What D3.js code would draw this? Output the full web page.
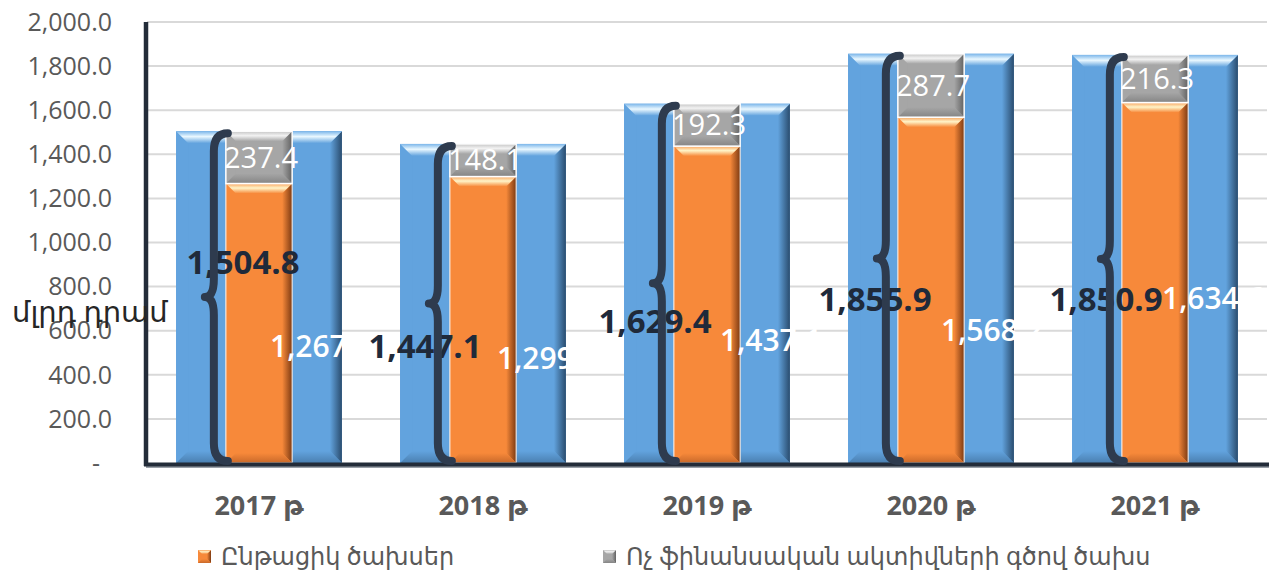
<!DOCTYPE html>
<html>
<head>
<meta charset="utf-8">
<script src="https://cdn.jsdelivr.net/npm/d3@7"></script>
<style>
  body { margin: 0; background: #fff; }
  svg { display: block; font-family: "Open Sans", "DejaVu Sans", sans-serif; }
</style>
</head>
<body>
<script>
// data (billion AMD)
const years = ["2017 թ", "2018 թ", "2019 թ", "2020 թ", "2021 թ"];
const totalValues = [1504.8, 1447.1, 1629.4, 1855.9, 1850.9];
const currentValues = [1267.4, 1299.0, 1437.1, 1568.2, 1634.6];
const nonFinancialValues = [237.4, 148.1, 192.3, 287.7, 216.3];
const yTicks = [0, 200, 400, 600, 800, 1000, 1200, 1400, 1600, 1800, 2000];
const legendLabels = ["Ընթացիկ ծախսեր", "Ոչ ֆինանսական ակտիվների գծով ծախս"];
const yTitle = "մլրդ դրամ";

// hand placed label nudges (dx, dy) as in the original
const totalShift = [[-16, -35], [-58, 43], [-52, 38], [-56, 41], [-49, 41]];
const currentShift = [[11, 23], [14, 39], [13, 36], [10, 40], [7, 16]];

const W = 1269, H = 575;
const plotL = 147, plotR = 1267, plotT = 22, plotB = 463;

const svg = d3.select("body").append("svg")
    .attr("width", W).attr("height", H);
const defs = svg.append("defs");

const x = d3.scaleBand().domain(years).range([plotL, plotR])
    .paddingInner(0.26).paddingOuter(0.13);
const y = d3.scaleLinear().domain([0, 2000]).range([plotB, plotT]);
const fmt = d3.format(",.1f");

// gradients for the bevel look
const palettes = {
    blue:   { base: "#62a3de", light: "#eaf8ff", mid: "#7bb6ea", dark: "#2a4c6e", low: "#4a7fb0" },
    orange: { base: "#f7893a", light: "#fff4c8", mid: "#f9a35e", dark: "#7d3a12", low: "#c9692a" },
    gray:   { base: "#a6a6a6", light: "#f2f2f2", mid: "#c4c4c4", dark: "#626262", low: "#858585" }
};
Object.entries(palettes).forEach(([k, p]) => {
    const gt = defs.append("linearGradient").attr("id", k + "-top")
        .attr("x1", 0).attr("y1", 0).attr("x2", 0).attr("y2", 1);
    gt.append("stop").attr("offset", "0%").attr("stop-color", p.mid);
    gt.append("stop").attr("offset", "45%").attr("stop-color", p.light);
    gt.append("stop").attr("offset", "100%").attr("stop-color", p.base);
    const gr = defs.append("linearGradient").attr("id", k + "-right")
        .attr("x1", 0).attr("y1", 0).attr("x2", 1).attr("y2", 0);
    gr.append("stop").attr("offset", "0%").attr("stop-color", p.base);
    gr.append("stop").attr("offset", "100%").attr("stop-color", p.dark);
    const gb = defs.append("linearGradient").attr("id", k + "-bottom")
        .attr("x1", 0).attr("y1", 0).attr("x2", 0).attr("y2", 1);
    gb.append("stop").attr("offset", "0%").attr("stop-color", p.base);
    gb.append("stop").attr("offset", "100%").attr("stop-color", p.low);
});

function bevelBar(g, bx, by, bw, bh, pal, b) {
    const bb = Math.min(b, bh / 2);
    const grp = g.append("g");
    grp.append("rect").attr("x", bx).attr("y", by).attr("width", bw).attr("height", bh)
        .attr("fill", palettes[pal].base);
    const poly = (pts, fill) => grp.append("polygon")
        .attr("points", pts.map(p => p.join(",")).join(" ")).attr("fill", fill);
    poly([[bx, by], [bx + bb, by + bb], [bx + bb, by + bh - bb], [bx, by + bh]], palettes[pal].base);
    poly([[bx + bw, by], [bx + bw - bb, by + bb], [bx + bw - bb, by + bh - bb], [bx + bw, by + bh]], `url(#${pal}-right)`);
    poly([[bx, by + bh], [bx + bw, by + bh], [bx + bw - bb, by + bh - bb], [bx + bb, by + bh - bb]], `url(#${pal}-bottom)`);
    poly([[bx, by], [bx + bw, by], [bx + bw - bb, by + bb], [bx + bb, by + bb]], `url(#${pal}-top)`);
    return grp;
}

// gridlines
svg.append("g").selectAll("line")
    .data(yTicks.filter(d => d > 0))
    .join("line")
    .attr("x1", plotL).attr("x2", plotR)
    .attr("y1", d => y(d)).attr("y2", d => y(d))
    .attr("stroke", "#d9d9d9").attr("stroke-width", 2);

// y tick labels
svg.append("g").selectAll("text")
    .data(yTicks)
    .join("text")
    .attr("x", d => d === 0 ? 100 : 112)
    .attr("y", d => y(d))
    .attr("dy", "0.35em")
    .attr("text-anchor", "end")
    .attr("font-size", 25)
    .attr("fill", "#595959")
    .text(d => d === 0 ? "-" : fmt(d));

// bars
const bars = svg.append("g");
const innerW = x.bandwidth() * 0.4;
years.forEach((yr, i) => {
    const bx = x(yr), bw = x.bandwidth();
    bevelBar(bars, bx, y(totalValues[i]), bw, y(0) - y(totalValues[i]), "blue", 12);
    const cx = bx + bw / 2 - innerW / 2;
    bevelBar(bars, cx, y(currentValues[i]), innerW, y(0) - y(currentValues[i]), "orange", 10)
        .append("rect").attr("x", cx).attr("y", y(currentValues[i]))
        .attr("width", innerW).attr("height", y(0) - y(currentValues[i]))
        .attr("fill", "none").attr("stroke", "#fff").attr("stroke-width", 1.2).attr("opacity", 0.8);
    const gTop = y(currentValues[i] + nonFinancialValues[i]);
    bevelBar(bars, cx, gTop, innerW, y(currentValues[i]) - gTop, "gray", 10)
        .append("rect").attr("x", cx).attr("y", gTop)
        .attr("width", innerW).attr("height", y(currentValues[i]) - gTop)
        .attr("fill", "none").attr("stroke", "#fff").attr("stroke-width", 1.5);
});

// axes lines
svg.append("line").attr("x1", plotL - 1).attr("x2", W).attr("y1", plotB + 4).attr("y2", plotB + 4)
    .attr("stroke", "#9aa0a8").attr("stroke-width", 2);
svg.append("line").attr("x1", plotL - 1).attr("x2", plotL - 1).attr("y1", plotT).attr("y2", plotB + 3)
    .attr("stroke", "#232c39").attr("stroke-width", 4.5);
svg.append("line").attr("x1", plotL - 3).attr("x2", W).attr("y1", plotB + 1.5).attr("y2", plotB + 1.5)
    .attr("stroke", "#232c39").attr("stroke-width", 4);

// total labels
svg.append("g").selectAll("text")
    .data(years)
    .join("text")
    .attr("x", (d, i) => x(d) + x.bandwidth() / 2 + totalShift[i][0])
    .attr("y", (d, i) => y(totalValues[i] / 2) + totalShift[i][1])
    .attr("dy", "0.35em")
    .attr("text-anchor", "middle")
    .attr("font-size", 33)
    .attr("font-weight", "bold")
    .attr("fill", "#1f2a3a")
    .text((d, i) => fmt(totalValues[i]));

// braces spanning the total
function bracePath(xs, y0, y1) {
    const ym = (y0 + y1) / 2, w = 14, r = 18, d = 9;
    return `M${xs + w},${y0} Q${xs},${y0} ${xs},${y0 + r} L${xs},${ym - r} ` +
        `Q${xs},${ym} ${xs - d},${ym} Q${xs},${ym} ${xs},${ym + r} ` +
        `L${xs},${y1 - r} Q${xs},${y1} ${xs + w},${y1}`;
}
svg.append("g").selectAll("path")
    .data(years)
    .join("path")
    .attr("d", (d, i) => bracePath(x(d) + x.bandwidth() / 2 - innerW / 2 - 12, y(totalValues[i]) + 2, y(0) - 2))
    .attr("fill", "none")
    .attr("stroke", "#2e3b4e")
    .attr("stroke-width", 8)
    .attr("stroke-linecap", "round")
    .attr("stroke-linejoin", "round");

// current expense labels (white, as in original)
svg.append("g").selectAll("text")
    .data(years)
    .join("text")
    .attr("x", (d, i) => x(d) + x.bandwidth() / 2 + currentShift[i][0])
    .attr("y", (d, i) => y(currentValues[i] / 2) + currentShift[i][1])
    .attr("dy", "0.35em")
    .attr("font-size", 30)
    .attr("font-weight", 600)
    .attr("fill", "#fff")
    .text((d, i) => fmt(currentValues[i]));

// non financial labels
svg.append("g").selectAll("text")
    .data(years)
    .join("text")
    .attr("x", d => x(d) + x.bandwidth() / 2 + 2)
    .attr("y", (d, i) => (y(currentValues[i]) + y(currentValues[i] + nonFinancialValues[i])) / 2)
    .attr("dy", "0.35em")
    .attr("text-anchor", "middle")
    .attr("font-size", 29)
    .attr("font-weight", 500)
    .attr("fill", "#fff")
    .text((d, i) => fmt(nonFinancialValues[i]));

// x labels
svg.append("g").selectAll("text")
    .data(years)
    .join("text")
    .attr("x", d => x(d) + x.bandwidth() / 2)
    .attr("y", 515)
    .attr("text-anchor", "middle")
    .attr("font-size", 27)
    .attr("font-weight", "bold")
    .attr("fill", "#595959")
    .text(d => d);

// y title
svg.append("text")
    .attr("x", 12).attr("y", 312).attr("dy", "0.35em")
    .attr("font-size", 29)
    .attr("fill", "#262626")
    .text(yTitle);

// legend
const legend = svg.append("g");
const legendX = [198, 603];
["orange", "gray"].forEach((pal, i) => {
    bevelBar(legend, legendX[i], 550, 13, 13, pal, 4);
    legend.append("text")
        .attr("x", legendX[i] + 23).attr("y", 557).attr("dy", "0.35em")
        .attr("font-size", 24)
        .attr("fill", "#595959")
        .text(legendLabels[i]);
});
</script>
</body>
</html>
